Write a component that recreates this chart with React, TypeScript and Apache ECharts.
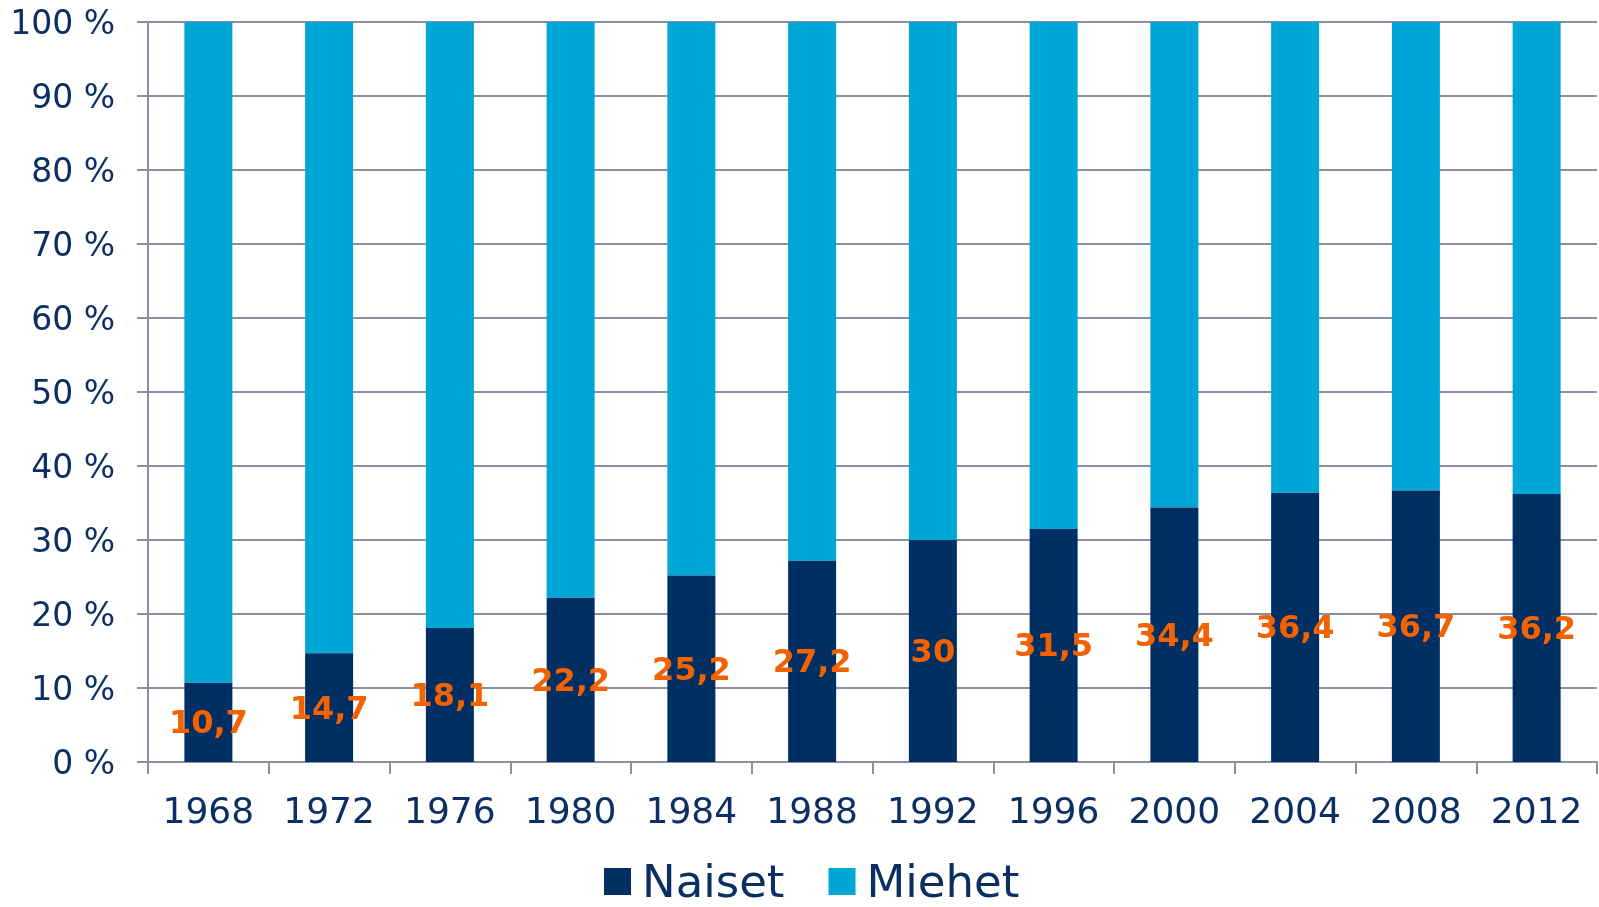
import React, { useEffect, useRef } from "react";
import * as echarts from "echarts";

const years = ["1968", "1972", "1976", "1980", "1984", "1988", "1992", "1996", "2000", "2004", "2008", "2012"];
const naiset = [10.7, 14.7, 18.1, 22.2, 25.2, 27.2, 30, 31.5, 34.4, 36.4, 36.7, 36.2];
const miehet = [89.3, 85.3, 81.9, 77.8, 74.8, 72.8, 70, 68.5, 65.6, 63.6, 63.3, 63.8];

const FONT = "DejaVu Sans, Verdana, sans-serif";
const NAVY_TEXT = "#0B2F63";
const GRID = "#8C8FA3";

export default function App() {
  const ref = useRef<HTMLDivElement>(null);
  useEffect(() => {
    if (!ref.current) return;
    const chart = echarts.init(ref.current, null, { renderer: "svg" });
    chart.setOption({
      animation: false,
      grid: { left: 148, right: 2, top: 22, bottom: 145, containLabel: false },
      legend: {
        left: 604,
        top: 859,
        itemWidth: 27,
        itemHeight: 27,
        itemGap: 44,
        icon: "rect",
        padding: 0,
        textStyle: { fontFamily: FONT, fontSize: 45, lineHeight: 42, color: NAVY_TEXT, padding: [0, 0, 0, 6] },
        data: ["Naiset", "Miehet"],
      },
      xAxis: {
        type: "category",
        data: years,
        boundaryGap: true,
        axisLine: { show: true, lineStyle: { color: GRID, width: 2 } },
        axisTick: { show: true, length: 12, lineStyle: { color: GRID, width: 2 } },
        axisLabel: { fontFamily: FONT, fontSize: 36, color: NAVY_TEXT, margin: 30 },
      },
      yAxis: {
        type: "value",
        min: 0,
        max: 100,
        interval: 10,
        axisLine: { show: true, lineStyle: { color: GRID, width: 2 } },
        axisTick: { show: true, length: 11, lineStyle: { color: GRID, width: 2 } },
        axisLabel: { fontFamily: FONT, fontSize: 33, color: NAVY_TEXT, margin: 33, formatter: "{value} %" },
        splitLine: { show: true, lineStyle: { color: GRID, width: 2 } },
      },
      series: [
        {
          name: "Naiset",
          type: "bar",
          stack: "total",
          barWidth: 48,
          data: naiset,
          itemStyle: { color: "#002F63" },
          label: {
            show: true,
            position: "inside",
            fontFamily: FONT,
            fontWeight: "bold",
            fontSize: 32,
            color: "#F26200",
            formatter: (p: any) => String(p.value).replace(".", ","),
          },
          z: 3,
        },
        {
          name: "Miehet",
          type: "bar",
          stack: "total",
          barWidth: 48,
          data: miehet,
          itemStyle: { color: "#00A6D6" },
        },
      ],
    });
    return () => chart.dispose();
  }, []);
  return <div ref={ref} style={{ position: "fixed", left: 0, top: 0, width: 1599, height: 907 }} />;
}
